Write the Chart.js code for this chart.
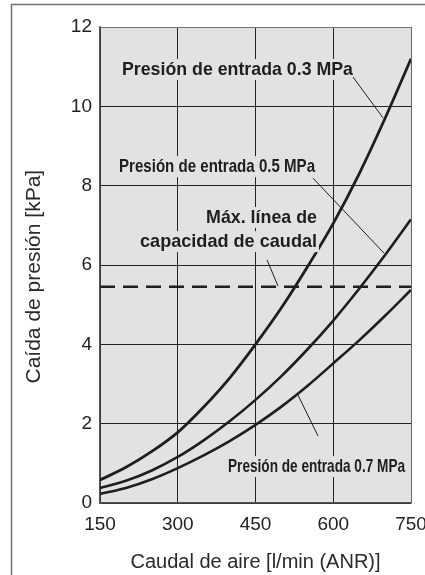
<!DOCTYPE html>
<html><head><meta charset="utf-8">
<script src="https://cdn.jsdelivr.net/npm/chart.js@4/dist/chart.umd.min.js"></script>
<style>html,body{margin:0;padding:0;background:#fff;}#wrap{width:425px;height:575px;}</style>
</head><body><div id="wrap"><canvas id="c" width="425" height="575"></canvas></div>
<script>
// Data
const flow   = [150, 200, 250, 300, 350, 400, 450, 500, 550, 600, 650, 700, 750];
const drop03 = [0.58, 0.9, 1.3, 1.78, 2.42, 3.15, 4.0, 4.92, 5.95, 7.05, 8.3, 9.7, 11.2];
const drop05 = [0.38, 0.56, 0.82, 1.16, 1.58, 2.06, 2.6, 3.2, 3.87, 4.6, 5.4, 6.25, 7.15];
const drop07 = [0.23, 0.38, 0.6, 0.88, 1.2, 1.56, 1.97, 2.43, 2.95, 3.52, 4.1, 4.72, 5.37];
const maxLineFlow = [150, 750];
const maxLineDrop = [5.45, 5.45];
const xTicks = [150, 300, 450, 600, 750];
const yTicks = [0, 2, 4, 6, 8, 10, 12];
const xTitle = 'Caudal de aire [l/min (ANR)]';
const yTitle = 'Caída de presión [kPa]';
const label03 = 'Presión de entrada 0.3 MPa';
const label05 = 'Presión de entrada 0.5 MPa';
const label07 = 'Presión de entrada 0.7 MPa';
const labelMax = ['Máx. línea de', 'capacidad de caudal'];

const FONT = '"Liberation Sans", Arial, sans-serif';
const NARROW = '"Liberation Sans Narrow", "Liberation Sans", Arial, sans-serif';
const PLOT_BG = '#e2e2e2';
const INK = '#1e1e1e';

const toXY = (xs, ys) => xs.map((x, i) => ({x: x, y: ys[i]}));

const bgPlugin = {
  id: 'bg',
  beforeDraw(chart) {
    const {ctx, chartArea: a} = chart;
    ctx.save();
    ctx.fillStyle = PLOT_BG;
    ctx.fillRect(a.left, a.top, a.right - a.left, a.bottom - a.top);
    ctx.strokeStyle = '#707070';
    ctx.lineWidth = 1.5;
    ctx.beginPath();
    ctx.moveTo(11.5, 575); ctx.lineTo(11.5, 4.5); ctx.lineTo(425, 4.5);
    ctx.stroke();
    ctx.restore();
  }
};

function fitText(ctx, text, x, y, w, align) {
  const m = ctx.measureText(text).width;
  const s = w / m;
  ctx.save();
  ctx.translate(x, y);
  ctx.scale(s, 1);
  ctx.textAlign = align;
  ctx.textBaseline = 'alphabetic';
  ctx.fillStyle = PLOT_BG;
  const bx = align === 'right' ? -m - 2 : -2;
  ctx.fillRect(bx, -16, m + 4, 21);
  ctx.fillStyle = INK;
  ctx.fillText(text, 0, 0);
  ctx.restore();
}

const annPlugin = {
  id: 'ann',
  afterDatasetsDraw(chart) {
    const {ctx} = chart;
    const X = v => chart.scales.x.getPixelForValue(v);
    const Y = v => chart.scales.y.getPixelForValue(v);
    ctx.save();
    ctx.font = 'bold 19px ' + NARROW;
    fitText(ctx, label03, X(192.4), Y(10.79), 231, 'left');
    fitText(ctx, label05, X(186.7), Y(8.34), 196, 'left');
    fitText(ctx, labelMax[0], X(568.7), Y(7.06), 111, 'right');
    fitText(ctx, labelMax[1], X(568.7), Y(6.45), 177, 'right');
    fitText(ctx, label07, X(397), Y(0.78), 177, 'left');
    ctx.strokeStyle = INK;
    ctx.lineWidth = 1;
    const seg = (x1, y1, x2, y2) => { ctx.beginPath(); ctx.moveTo(X(x1), Y(y1)); ctx.lineTo(X(x2), Y(y2)); ctx.stroke(); };
    seg(638.1, 10.74, 696, 9.71);
    seg(560.9, 8.19, 697.9, 6.30);
    seg(472.2, 6.13, 493.4, 5.47);
    seg(532, 2.72, 570.6, 1.69);
    ctx.restore();
  }
};

const curve = (ys, w) => ({
  data: toXY(flow, ys),
  borderColor: INK, borderWidth: w, pointRadius: 0, fill: false,
  cubicInterpolationMode: 'monotone'
});

new Chart(document.getElementById('c'), {
  type: 'line',
  data: {
    datasets: [
      curve(drop03, 2.8),
      curve(drop05, 2.6),
      curve(drop07, 2.6),
      { data: toXY(maxLineFlow, maxLineDrop), borderColor: INK, borderWidth: 2.6,
        borderDash: [15, 8], pointRadius: 0, fill: false }
    ]
  },
  options: {
    responsive: false, animation: false,
    layout: { padding: { left: 0, right: 14, top: 27, bottom: 0 } },
    plugins: { legend: { display: false }, tooltip: { enabled: false } },
    scales: {
      x: {
        type: 'linear', min: 150, max: 750,
        afterBuildTicks(s) { s.ticks = xTicks.map(v => ({value: v})); },
        afterFit(s) { s.height = 72; s.paddingLeft = 0; s.paddingRight = 0; },
        grid: { drawTicks: false, lineWidth: 1,
          color: c => (c.tick && (c.tick.value === 750)) ? '#666' : '#222' },
        border: { display: true, color: '#555', width: 1.5 },
        ticks: { padding: 10, maxRotation: 0, autoSkip: false, color: '#222',
          font: { family: FONT, size: 19 } },
        title: { display: true, text: xTitle, color: '#2a2a2a',
          font: { family: FONT, size: 20 }, padding: { top: 0, bottom: 1 } }
      },
      y: {
        type: 'linear', min: 0, max: 12,
        afterBuildTicks(s) { s.ticks = yTicks.map(v => ({value: v})); },
        afterFit(s) { s.width = 100; s.paddingTop = 0; s.paddingBottom = 0; },
        grid: { drawTicks: false, lineWidth: 1,
          color: c => (c.tick && (c.tick.value === 12)) ? '#777' : '#222' },
        border: { display: true, color: '#555', width: 1.5 },
        ticks: { padding: 8, color: '#222', font: { family: FONT, size: 19 } },
        title: { display: true, text: yTitle + '    ', color: '#2a2a2a',
          font: { family: FONT, size: 21 }, padding: { top: 22, bottom: 0 } }
      }
    }
  },
  plugins: [bgPlugin, annPlugin]
});
</script>
</body></html>
